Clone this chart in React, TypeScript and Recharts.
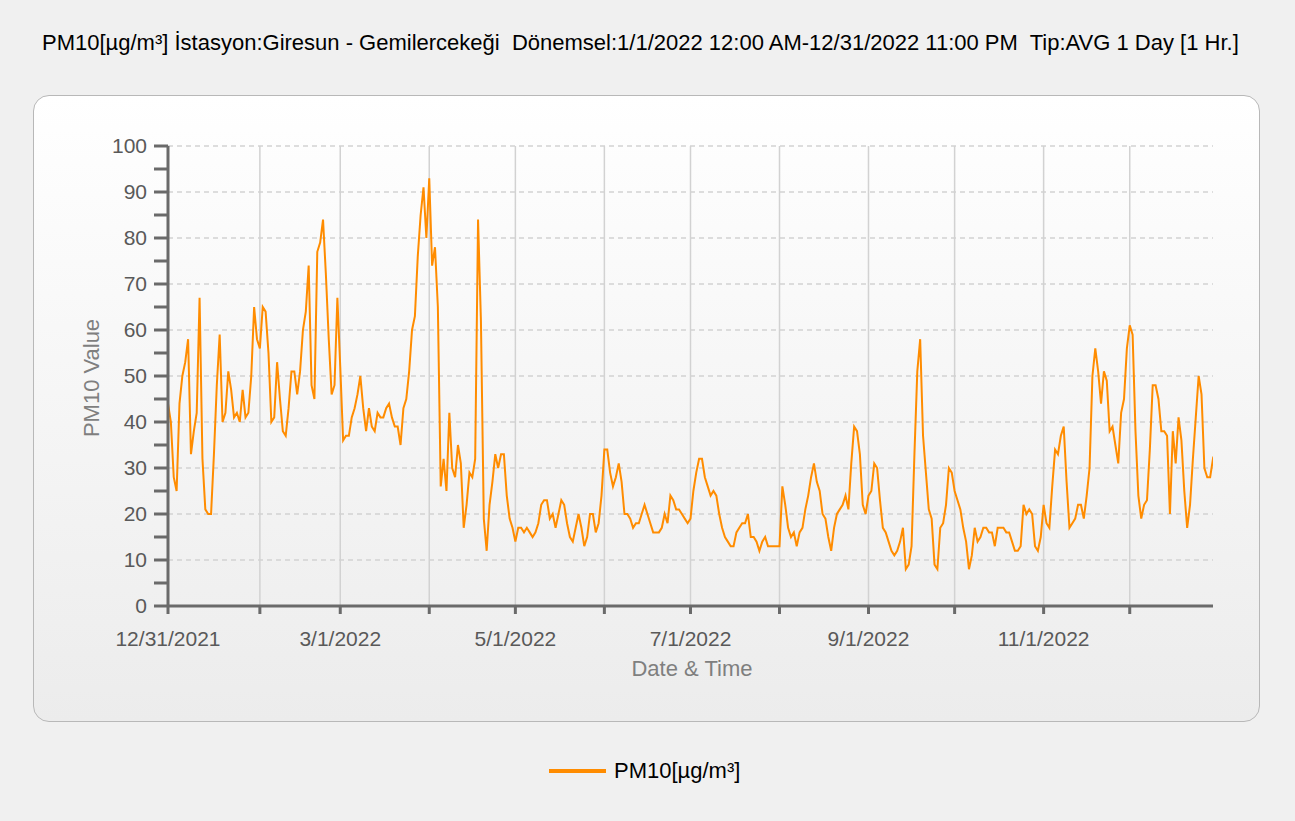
import React from "react";
import { CartesianGrid, Line, LineChart, ReferenceLine, XAxis, YAxis } from "recharts";

const ORANGE = "#ff8c00";
const AXIS = "#6a6a6a";
const TICK_TEXT = "#595959";
const GRID = "#d2d2d2";

// Daily PM10 averages (day offset 0 = 12/31/2021)
const START = [44];
const JAN = [40, 28, 25, 44, 50, 53, 58, 33, 38, 42, 67, 32, 21, 20, 20, 33, 48, 59, 40, 42, 51, 47, 41, 42, 40, 47, 41, 42, 50, 65, 58];
const FEB = [56, 65, 64, 55, 40, 41, 53, 45, 38, 37, 43, 51, 51, 46, 51, 60, 64, 74, 48, 45, 77, 79, 84, 72, 58, 46, 48, 67];
const MAR = [52, 36, 37, 37, 41, 43, 46, 50, 43, 38, 43, 39, 38, 42, 41, 41, 43, 44, 41, 39, 39, 35, 43, 45, 51, 60, 63, 76, 85, 91, 80];
const APR = [93, 74, 78, 65, 26, 32, 25, 42, 30, 28, 35, 31, 17, 22, 29, 28, 32, 84, 62, 19, 12, 22, 27, 33, 30, 33, 33, 24, 19, 17];
const MAY = [14, 17, 17, 16, 17, 16, 15, 16, 18, 22, 23, 23, 19, 20, 17, 20, 23, 22, 18, 15, 14, 17, 20, 17, 13, 15, 20, 20, 16, 18, 24];
const JUN = [34, 34, 29, 26, 28, 31, 27, 20, 20, 19, 17, 18, 18, 20, 22, 20, 18, 16, 16, 16, 17, 20, 18, 24, 23, 21, 21, 20, 19, 18];
const JUL = [19, 25, 29, 32, 32, 28, 26, 24, 25, 24, 20, 17, 15, 14, 13, 13, 16, 17, 18, 18, 20, 15, 15, 14, 12, 14, 15, 13, 13, 13, 13];
const AUG = [13, 26, 22, 17, 15, 16, 13, 16, 17, 21, 24, 28, 31, 27, 25, 20, 19, 15, 12, 17, 20, 21, 22, 24, 21, 31, 39, 38, 33, 22, 20];
const SEP = [24, 25, 31, 30, 23, 17, 16, 14, 12, 11, 12, 14, 17, 8, 9, 13, 33, 51, 58, 37, 29, 21, 19, 9, 8, 17, 18, 22, 30, 29];
const OCT = [25, 23, 21, 17, 14, 8, 11, 17, 14, 15, 17, 17, 16, 16, 13, 17, 17, 17, 16, 16, 14, 12, 12, 13, 22, 20, 21, 20, 13, 12, 15];
const NOV = [22, 18, 17, 26, 34, 33, 37, 39, 27, 17, 18, 19, 22, 22, 19, 24, 30, 50, 56, 51, 44, 51, 49, 38, 39, 35, 31, 42, 45, 56];
const DEC = [61, 59, 38, 24, 19, 22, 23, 34, 48, 48, 45, 38, 38, 37, 20, 38, 31, 41, 36, 25, 17, 22, 32, 41, 50, 46, 30, 28, 28, 32, 31];

// month starts as day offsets, labels on every other month
const MONTH_TICKS = [0, 32, 60, 91, 121, 152, 182, 213, 244, 274, 305, 335];
const MONTH_LABELS = ["12/31/2021", "", "3/1/2022", "", "5/1/2022", "", "7/1/2022", "", "9/1/2022", "", "11/1/2022", ""];
const Y_TICKS = [0, 5, 10, 15, 20, 25, 30, 35, 40, 45, 50, 55, 60, 65, 70, 75, 80, 85, 90, 95, 100];
const Y_GRID = [10, 20, 30, 40, 50, 60, 70, 80, 90, 100];

const TITLE =
  "PM10[µg/m³] İstasyon:Giresun - Gemilercekeği  Dönemsel:1/1/2022 12:00 AM-12/31/2022 11:00 PM  Tip:AVG 1 Day [1 Hr.]";

const values = [...START, ...JAN, ...FEB, ...MAR, ...APR, ...MAY, ...JUN, ...JUL, ...AUG, ...SEP, ...OCT, ...NOV, ...DEC];
const data = values.map((v, i) => ({ day: i, pm10: v }));

const FONT = "'Liberation Sans', Arial, sans-serif";

export default function App() {
  return (
    <div
      style={{
        position: "absolute",
        left: 0,
        top: 0,
        width: 1295,
        height: 821,
        background: "#f0f0f0",
        fontFamily: FONT,
        overflow: "hidden",
      }}
    >
      <div style={{ position: "absolute", left: 42, top: 30, fontSize: 22, color: "#000", whiteSpace: "pre" }}>
        {TITLE}
      </div>

      <div
        style={{
          position: "absolute",
          left: 33,
          top: 95,
          width: 1227,
          height: 627,
          boxSizing: "border-box",
          border: "1px solid #b8b8b8",
          borderRadius: 16,
          background: "linear-gradient(to bottom, #ffffff 0%, #ececec 100%)",
        }}
      />

      <div style={{ position: "absolute", left: 33, top: 95 }}>
        <LineChart width={1227} height={627} data={data} margin={{ top: 51, right: 47, bottom: 56, left: 0 }}>
          <CartesianGrid vertical={false} horizontal={false} />
          {Y_GRID.map((y) => (
            <ReferenceLine key={`h${y}`} y={y} stroke={GRID} strokeWidth={1.5} strokeDasharray="5 4" />
          ))}
          {MONTH_TICKS.slice(1).map((d) => (
            <ReferenceLine key={`v${d}`} x={d} stroke={GRID} strokeWidth={1.5} />
          ))}
          <XAxis
            dataKey="day"
            type="number"
            domain={[0, 364]}
            allowDataOverflow
            ticks={MONTH_TICKS}
            tickFormatter={(v: number) => MONTH_LABELS[MONTH_TICKS.indexOf(v)] ?? ""}
            tick={{ fontSize: 21, fill: TICK_TEXT, fontFamily: FONT }}
            tickSize={8}
            tickMargin={17}
            tickLine={{ stroke: AXIS, strokeWidth: 3 }}
            axisLine={{ stroke: AXIS, strokeWidth: 3 }}
            height={60}
            interval={0}
          />
          <YAxis
            type="number"
            domain={[0, 100]}
            ticks={Y_TICKS}
            tickFormatter={(v: number) => (v % 10 === 0 ? String(v) : "")}
            tick={{ fontSize: 21, fill: TICK_TEXT, fontFamily: FONT }}
            tickSize={14}
            tickMargin={7}
            tickLine={{ stroke: AXIS, strokeWidth: 3 }}
            axisLine={{ stroke: AXIS, strokeWidth: 3 }}
            width={135}
            interval={0}
          />
          <Line
            type="linear"
            dataKey="pm10"
            stroke={ORANGE}
            strokeWidth={2}
            dot={false}
            isAnimationActive={false}
          />
        </LineChart>
      </div>

      <div
        style={{
          position: "absolute",
          left: 92,
          top: 378,
          transform: "translate(-50%, -50%) rotate(-90deg)",
          fontSize: 22,
          color: "#7f7f7f",
          whiteSpace: "nowrap",
        }}
      >
        PM10 Value
      </div>
      <div
        style={{
          position: "absolute",
          left: 692,
          top: 669,
          transform: "translate(-50%, -50%)",
          fontSize: 22,
          color: "#7f7f7f",
          whiteSpace: "nowrap",
        }}
      >
        Date &amp; Time
      </div>

      <div style={{ position: "absolute", left: 549, top: 769, width: 57, height: 4, background: ORANGE }} />
      <div
        style={{
          position: "absolute",
          left: 614,
          top: 771,
          transform: "translateY(-50%)",
          fontSize: 22,
          color: "#000",
          whiteSpace: "nowrap",
        }}
      >
        PM10[µg/m³]
      </div>
    </div>
  );
}
